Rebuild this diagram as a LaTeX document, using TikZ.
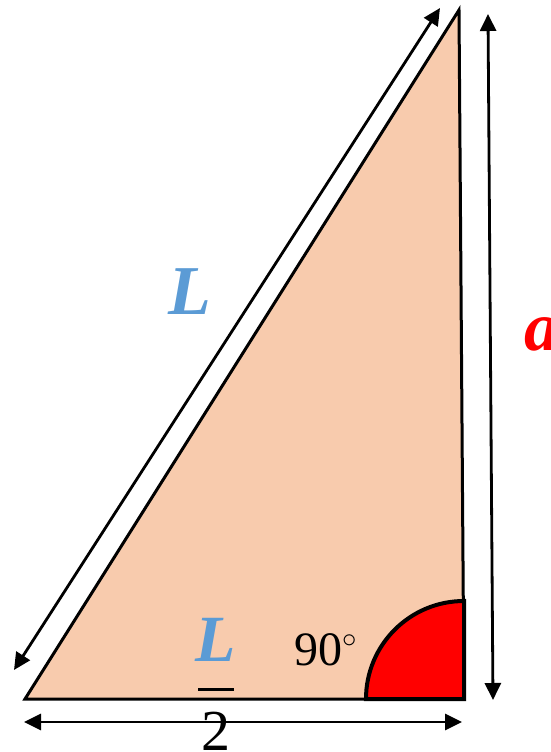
\documentclass[tikz,border=0pt]{standalone}
\usepackage{fontspec}
\setmainfont{Liberation Serif}
\usepackage{tikz}
\usetikzlibrary{arrows.meta,positioning}

\definecolor{peach}{RGB}{248,203,173}
\definecolor{lblue}{RGB}{91,155,213}

\begin{document}
\begin{tikzpicture}[
  x=0.5pt,y=-0.5pt,
  tri/.style={draw=black, line width=1.5pt, fill=peach, line join=miter},
  rightangle/.style={draw=black, line width=2pt, fill=red},
  dimarr/.style={{Triangle[length=8.5pt,width=8pt]}-{Triangle[length=8.5pt,width=8pt]}, line width=1.4pt},
  lbl/.style={inner sep=0pt, font=\fontsize{35}{40}\selectfont\bfseries\itshape}
]
\useasboundingbox (0,0) rectangle (551,752);
% triangle corners
\coordinate (bl) at (25,699);
\coordinate (br) at (464,699);
\coordinate (tp) at (459,10);
\filldraw[tri] (bl) -- (br) -- (tp) -- cycle;
\filldraw[rightangle] (br) -- (366,699) arc[start angle=180, end angle=270, radius=98] -- cycle;
% dimension arrows
\coordinate (hypA) at (14,670);
\coordinate (hypB) at (440,8);
\coordinate (vertA) at (488,14);
\coordinate (vertB) at (493,700);
\coordinate (baseA) at (24,722);
\coordinate (baseB) at (462,722);
\draw[dimarr] (hypA) -- (hypB);
\draw[dimarr] (vertA) -- (vertB);
\draw[dimarr] (baseA) -- (baseB);
% labels
\node[lbl, text=lblue] (hyplabel) at (190,292) {L};
\node[lbl, text=red] (sidelabel) at (542,334) {a};
\node[lbl, text=lblue, font=\fontsize{33}{38}\selectfont\bfseries\itshape] (fracnum) at (216,640) {L};
\node[fill=black, inner sep=0pt, minimum width=18pt, minimum height=1.5pt] (fracbar) at (216,689) {};
\node[inner sep=0pt, font=\fontsize{29}{34}\selectfont] (fracden) at (216,731) {2};
\node[inner sep=0pt, font=\fontsize{24}{28}\selectfont] (anglelabel) at (326,650) {90\textsuperscript{\fontsize{14}{16}\selectfont$\circ$}};
\end{tikzpicture}
\end{document}
